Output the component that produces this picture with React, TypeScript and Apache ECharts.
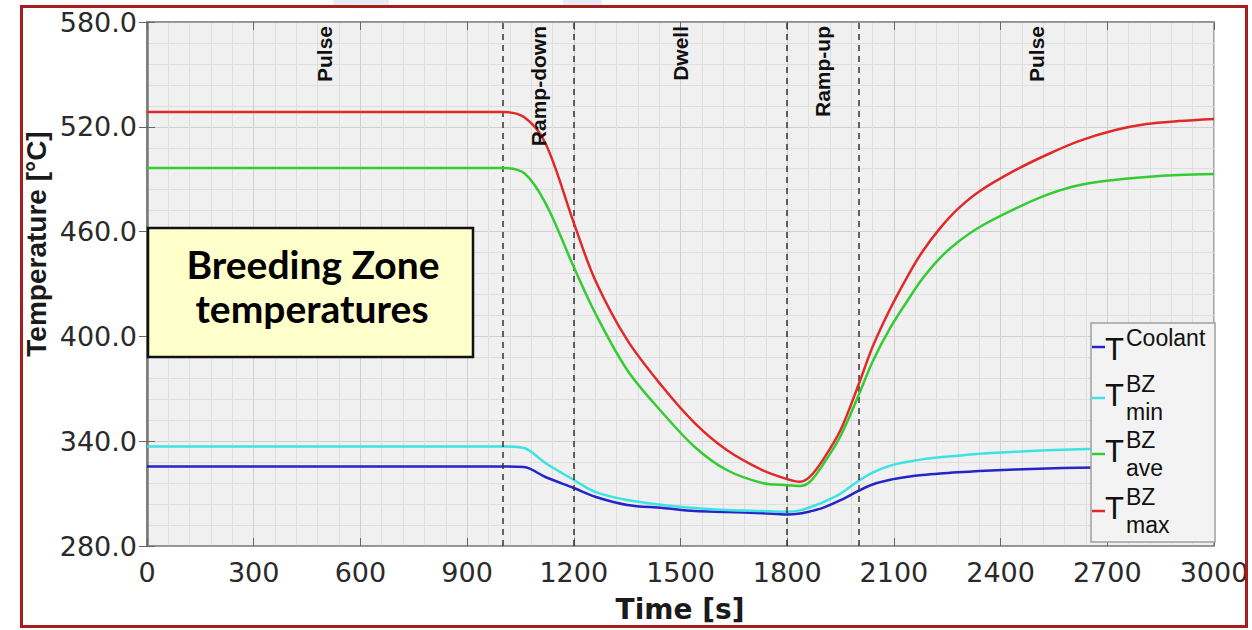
import React, { useEffect, useRef } from 'react';
import * as echarts from 'echarts';

// ---- data ----
const timeS = [0, 500, 950, 1000, 1060, 1120, 1200, 1260, 1350, 1450, 1540, 1630, 1730, 1800, 1836, 1864, 1900, 1950, 2000, 2040, 2090, 2140, 2180, 2230, 2280, 2340, 2440, 2530, 2620, 2720, 2810, 2900, 3000];
const tCoolant = [325.5, 325.5, 325.5, 325.5, 325.2, 319.5, 313.2, 308.2, 303.5, 301.8, 300.0, 299.5, 298.8, 298.0, 298.6, 299.8, 301.8, 306.2, 311.5, 315.2, 317.9, 319.6, 320.6, 321.5, 322.2, 322.9, 323.8, 324.4, 324.8, 325.1, 325.3, 325.4, 325.5];
const tMinBZ = [337.0, 337.0, 337.0, 337.0, 336.1, 327.5, 317.8, 311.0, 306.3, 303.5, 301.8, 300.6, 300.0, 299.6, 300.4, 302.2, 305.0, 310.0, 317.2, 322.0, 326.0, 328.2, 329.6, 330.8, 331.7, 332.8, 333.9, 334.8, 335.4, 335.8, 336.2, 336.5, 336.8];
const tAveBZ = [496.4, 496.4, 496.4, 496.4, 493.5, 476.4, 439.7, 413.4, 380.8, 356.1, 336.7, 323.5, 316.1, 314.8, 314.4, 316.8, 326.4, 343.0, 366.0, 385.5, 405.0, 421.0, 433.0, 445.0, 454.0, 462.5, 473.0, 481.0, 486.5, 489.6, 491.3, 492.4, 493.0];
const tMaxBZ = [528.5, 528.5, 528.5, 528.5, 525.6, 510.7, 465.0, 432.3, 398.0, 371.0, 350.4, 335.0, 323.5, 318.3, 316.8, 319.7, 329.2, 346.4, 372.0, 394.0, 416.0, 435.0, 448.5, 462.0, 473.0, 483.0, 495.0, 504.0, 511.8, 518.0, 521.6, 523.3, 524.5];

const phaseBounds = [1000, 1200, 1800, 2000];
const phaseNames = ['Pulse', 'Ramp-down', 'Dwell', 'Ramp-up', 'Pulse'];
const phaseCentres = [500, 1100, 1500, 1900, 2500];

const xMin = 0, xMax = 3000, xStep = 300;
const yMin = 280, yMax = 580, yStep = 60;

const seriesNames = ['T Coolant', 'T BZ min', 'T BZ ave', 'T BZ max'];
const seriesColors = ['#2424c8', '#3ee2e2', '#33cc33', '#e02a2a'];
const legendSup = ['Coolant', 'BZ', 'BZ', 'BZ'];
const legendSub = ['', 'min', 'ave', 'max'];

const boxLines = ['Breeding Zone', 'temperatures'];

export default function App() {
  const ref = useRef<HTMLDivElement>(null);

  useEffect(() => {
    const chart = echarts.init(ref.current!, null, { renderer: 'svg' });
    const seriesValues = [tCoolant, tMinBZ, tAveBZ, tMaxBZ];
    const pair = (vals: number[]) => timeS.map((t, i) => [t, vals[i]]);

    const tickFont = 'DejaVu Sans';
    const axisColor = '#8c8c8c';

    const baseX = { type: 'value' as const, min: xMin, max: xMax, interval: xStep };
    const baseY = { type: 'value' as const, min: yMin, max: yMax, interval: yStep };

    chart.setOption({
      animation: false,
      backgroundColor: '#ffffff',
      grid: {
        left: 147, right: 38, top: 22, bottom: 84,
        show: true, backgroundColor: '#f0f0f0', borderColor: axisColor, borderWidth: 1.5,
      },
      xAxis: [
        {
          ...baseX, position: 'bottom',
          axisLine: { show: true, lineStyle: { color: axisColor, width: 1.5 } },
          axisTick: { show: true, inside: true, length: 8, lineStyle: { color: '#666' } },
          minorTick: { show: false, splitNumber: 5 },
          axisLabel: {
            fontFamily: tickFont, fontSize: 27, color: '#2a2a2a', margin: 13,
            formatter: (v: number) => String(v),
          },
          splitLine: { show: true, lineStyle: { color: '#cfcfcf', width: 1 } },
          minorSplitLine: { show: true, lineStyle: { color: '#dedede', width: 1 } },
        },
        {
          ...baseX, position: 'top',
          axisLine: { show: true, lineStyle: { color: axisColor, width: 1.5 } },
          axisTick: { show: true, inside: true, length: 8, lineStyle: { color: '#666' } },
          axisLabel: { show: false },
          splitLine: { show: false },
        },
      ],
      yAxis: [
        {
          ...baseY, position: 'left',
          axisLine: { show: true, lineStyle: { color: axisColor, width: 1.5 } },
          axisTick: { show: true, inside: true, length: 8, lineStyle: { color: '#666' } },
          minorTick: { show: false, splitNumber: 5 },
          axisLabel: {
            fontFamily: tickFont, fontSize: 27, color: '#2a2a2a', margin: 10,
            formatter: (v: number) => v.toFixed(1),
          },
          splitLine: { show: true, lineStyle: { color: '#cfcfcf', width: 1 } },
          minorSplitLine: { show: true, lineStyle: { color: '#dedede', width: 1 } },
        },
        {
          ...baseY, position: 'right',
          axisLine: { show: true, lineStyle: { color: '#7a7a7a', width: 2.5 } },
          axisTick: { show: true, inside: true, length: 8, lineStyle: { color: '#666' } },
          axisLabel: { show: false },
          splitLine: { show: false },
        },
      ],
      series: seriesValues.map((vals, i) => ({
        type: 'line',
        name: seriesNames[i],
        data: pair(vals),
        xAxisIndex: 0,
        yAxisIndex: 0,
        showSymbol: false,
        symbol: 'none',
        smooth: 0.33,
        lineStyle: { color: seriesColors[i], width: 2.5 },
        z: 3 + i,
        markLine: i === 0 ? {
          silent: true,
          symbol: ['none', 'none'],
          label: { show: false },
          lineStyle: { type: [6, 5], color: '#333333', width: 1.5 },
          data: phaseBounds.map((b) => ({ xAxis: b })),
        } : undefined,
      })),
    });

    const phaseGraphics = phaseNames.map((name, i) => {
      const p = chart.convertToPixel({ seriesIndex: 0 }, [phaseCentres[i], yMax]) as number[];
      return {
        type: 'text', x: p[0], y: p[1] + 4, rotation: Math.PI / 2, z: 50,
        style: {
          text: name, font: 'bold 21px "Liberation Sans", Arial, sans-serif', fill: '#111',
          align: 'right', verticalAlign: 'middle',
        },
      };
    });

    const legendRows = [349, 395, 451, 508];
    const legendLineY = [347, 398, 454, 511];
    const legendGraphics: any[] = [
      {
        type: 'rect', z: 60, shape: { x: 1091, y: 323, width: 124, height: 219 },
        style: { fill: '#f3f3f3', stroke: '#a0a0a0', lineWidth: 1.5 },
      },
    ];
    seriesColors.forEach((c, i) => {
      const yc = legendRows[i];
      legendGraphics.push({
        type: 'line', z: 61,
        shape: { x1: 1092, y1: legendLineY[i], x2: 1105, y2: legendLineY[i] },
        style: { stroke: c, lineWidth: 2.5 },
      });
      legendGraphics.push({
        type: 'text', z: 61, x: 1105, y: yc,
        style: { text: 'T', font: '31px "Liberation Sans", Arial, sans-serif', fill: '#111', align: 'left', verticalAlign: 'middle' },
      });
      legendGraphics.push({
        type: 'text', z: 61, x: 1126, y: yc - 11,
        style: { text: legendSup[i], font: '23px "Liberation Sans", Arial, sans-serif', fill: '#111', align: 'left', verticalAlign: 'middle' },
      });
      if (legendSub[i]) {
        legendGraphics.push({
          type: 'text', z: 61, x: 1126, y: yc + 17,
          style: { text: legendSub[i], font: '23px "Liberation Sans", Arial, sans-serif', fill: '#111', align: 'left', verticalAlign: 'middle' },
        });
      }
    });

    const staticGraphics: any[] = [
      { type: 'rect', z: 40, shape: { x: 333, y: 0, width: 56, height: 5 }, style: { fill: '#e6ecf6' } },
      { type: 'rect', z: 40, shape: { x: 563, y: 0, width: 39, height: 5 }, style: { fill: '#e6ecf6' } },
      {
        type: 'rect', z: 80, shape: { x: 21.5, y: 6.5, width: 1225, height: 620 },
        style: { fill: 'none', stroke: '#a51d1d', lineWidth: 3 },
      },
      {
        type: 'rect', z: 60, shape: { x: 148, y: 228, width: 325, height: 129 },
        style: { fill: '#ffffcc', stroke: '#111', lineWidth: 2.5 },
      },
      {
        type: 'text', z: 61, x: 313, y: 264,
        style: { text: boxLines[0], font: 'bold 39px Lato, "Open Sans", sans-serif', fill: '#000', align: 'center', verticalAlign: 'middle' },
      },
      {
        type: 'text', z: 61, x: 312, y: 308,
        style: { text: boxLines[1], font: 'bold 39px Lato, "Open Sans", sans-serif', fill: '#000', align: 'center', verticalAlign: 'middle' },
      },
      {
        type: 'text', z: 61, x: 680, y: 609,
        style: { text: 'Time [s]', font: 'bold 28px "DejaVu Sans", sans-serif', fill: '#1a1a1a', align: 'center', verticalAlign: 'middle' },
      },
      {
        type: 'text', z: 61, x: 36, y: 244, rotation: Math.PI / 2,
        style: { text: 'Temperature [°C]', font: 'bold 28px "Liberation Sans", Arial, sans-serif', fill: '#1a1a1a', align: 'center', verticalAlign: 'middle' },
      },
    ];

    chart.setOption({ graphic: [...staticGraphics, ...legendGraphics, ...phaseGraphics] });

    return () => chart.dispose();
  }, []);

  return <div ref={ref} style={{ position: 'absolute', left: 0, top: 0, width: 1252, height: 630 }} />;
}
